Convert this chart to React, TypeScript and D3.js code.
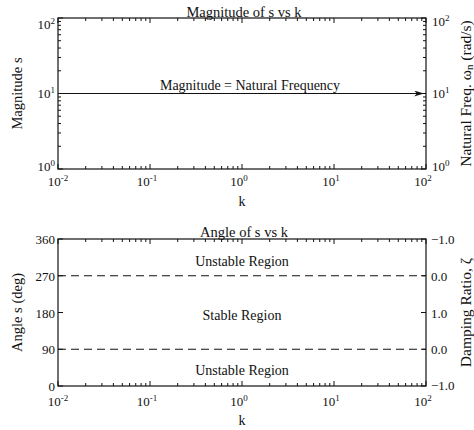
import React from 'react';
import * as d3 from 'd3';

const kDomain = [0.01, 100];
const kMajorTicks = [0.01, 0.1, 1, 10, 100];
const kTickExponents = ['-2', '-1', '0', '1', '2'];
const magnitudeDomain = [1, 100];
const magnitudeMajorTicks = [1, 10, 100];
const magnitudeExponents = ['0', '1', '2'];
const naturalFrequency = 10;
const angleDomain = [0, 360];
const angleTicks = [0, 90, 180, 270, 360];
const dampingLabels = ['\u22121.0', '0.0', '1.0', '0.0', '\u22121.0'];
const boundaryAngles = [90, 270];
const regionLabels = ['Unstable Region', 'Stable Region', 'Unstable Region'];
const regionLabelAngles = [295, 162, 27];

const W = 474, H = 430;
const L = 58, R = 426;
const T1 = 18, B1 = 169;
const T2 = 239, B2 = 386;
const FONT = '"Liberation Serif", "Times New Roman", serif';
const INK = '#111';

function Pow({ x, y, exp, anchor }: { x: number; y: number; exp: string; anchor: string }) {
  return (
    <text x={x} y={y} textAnchor={anchor} fontSize={13} fontFamily={FONT} fill={INK}>
      10<tspan dy={-5} fontSize={9}>{exp}</tspan>
    </text>
  );
}

export default function App() {
  const x = d3.scaleLog().domain(kDomain).range([L, R]);
  const yMag = d3.scaleLog().domain(magnitudeDomain).range([B1, T1]);
  const yAng = d3.scaleLinear().domain(angleDomain).range([B2, T2]);
  const kMinor = x.ticks().filter((t) => !kMajorTicks.some((m) => Math.abs(m - t) / m < 1e-6));
  const magMinor = yMag.ticks().filter((t) => !magnitudeMajorTicks.some((m) => Math.abs(m - t) / m < 1e-6));
  const cx = (L + R) / 2;
  const sw = 1.2;
  const xLabelShift = (i: number) => (i === 0 ? 0 : -3);

  const xTicks = (top: number, bottom: number) => (
    <g stroke={INK} strokeWidth={1}>
      {kMajorTicks.map((t, i) => (
        <g key={'M' + i}>
          <line x1={x(t)} x2={x(t)} y1={bottom} y2={bottom - 5} />
          <line x1={x(t)} x2={x(t)} y1={top} y2={top + 5} />
        </g>
      ))}
      {kMinor.map((t, i) => (
        <g key={'m' + i}>
          <line x1={x(t)} x2={x(t)} y1={bottom} y2={bottom - 3} />
          <line x1={x(t)} x2={x(t)} y1={top} y2={top + 3} />
        </g>
      ))}
    </g>
  );

  return (
    <svg width={W} height={H} style={{ position: 'absolute', left: 0, top: 0, background: '#fff' }}>
      <rect x={0} y={0} width={W} height={H} fill="#fff" />
      <defs>
        <marker id="arr" viewBox="0 0 10 6" refX={10} refY={3} markerWidth={10} markerHeight={6} markerUnits="userSpaceOnUse" orient="auto">
          <path d="M0,0 L10,3 L0,6 L3,3 Z" fill={INK} />
        </marker>
      </defs>

      {/* ---------- Top plot ---------- */}
      <rect x={L} y={T1} width={R - L} height={B1 - T1} fill="none" stroke={INK} strokeWidth={sw} />
      {xTicks(T1, B1)}
      <g stroke={INK} strokeWidth={1}>
        {magnitudeMajorTicks.map((t, i) => (
          <g key={'ym' + i}>
            <line x1={L} x2={L + 5} y1={yMag(t)} y2={yMag(t)} />
            <line x1={R} x2={R - 5} y1={yMag(t)} y2={yMag(t)} />
          </g>
        ))}
        {magMinor.map((t, i) => (
          <g key={'yn' + i}>
            <line x1={L} x2={L + 3} y1={yMag(t)} y2={yMag(t)} />
            <line x1={R} x2={R - 3} y1={yMag(t)} y2={yMag(t)} />
          </g>
        ))}
      </g>
      <line x1={L} x2={R - 2} y1={yMag(naturalFrequency)} y2={yMag(naturalFrequency)} stroke={INK} strokeWidth={1.2} markerEnd="url(#arr)" />
      <text x={cx + 8} y={yMag(naturalFrequency) - 4} textAnchor="middle" fontSize={14} fontFamily={FONT} fill={INK}>
        Magnitude = Natural Frequency
      </text>
      <text x={cx + 2} y={T1 - 1} textAnchor="middle" fontSize={14.5} fontFamily={FONT} fill={INK}>
        Magnitude of s vs k
      </text>
      {magnitudeMajorTicks.map((t, i) => (
        <Pow key={'ly' + i} x={L - 3} y={i === 2 ? yMag(t) + 11 : i === 0 ? yMag(t) + 2 : yMag(t) + 4} exp={magnitudeExponents[i]} anchor="end" />
      ))}
      {magnitudeMajorTicks.map((t, i) => (
        <Pow key={'ry' + i} x={R + 6} y={i === 2 ? yMag(t) + 8 : i === 0 ? yMag(t) + 2 : yMag(t) + 4} exp={magnitudeExponents[i]} anchor="start" />
      ))}
      {kMajorTicks.map((t, i) => (
        <Pow key={'tx' + i} x={x(t) + xLabelShift(i)} y={B1 + 17} exp={kTickExponents[i]} anchor="middle" />
      ))}
      <text x={cx} y={B1 + 37} textAnchor="middle" fontSize={14} fontFamily={FONT} fill={INK}>k</text>
      <text transform={`translate(22,${(T1 + B1) / 2}) rotate(-90)`} textAnchor="middle" fontSize={14.5} fontFamily={FONT} fill={INK}>
        Magnitude s
      </text>
      <text transform={`translate(471,${(T1 + B1) / 2}) rotate(-90)`} textAnchor="middle" fontSize={15.5} fontFamily={FONT} fill={INK}>
        Natural Freq. {'\u03c9'}<tspan fontSize={11} dy={2}>n</tspan><tspan dy={-2}> (rad/s)</tspan>
      </text>

      {/* ---------- Bottom plot ---------- */}
      <rect x={L} y={T2} width={R - L} height={B2 - T2} fill="none" stroke={INK} strokeWidth={sw} />
      {xTicks(T2, B2)}
      <g stroke={INK} strokeWidth={1}>
        {angleTicks.map((t, i) => (
          <g key={'at' + i}>
            <line x1={L} x2={L + 5} y1={yAng(t)} y2={yAng(t)} />
            <line x1={R} x2={R - 5} y1={yAng(t)} y2={yAng(t)} />
          </g>
        ))}
      </g>
      {boundaryAngles.map((a, i) => (
        <line key={'b' + i} x1={L} x2={R} y1={yAng(a)} y2={yAng(a)} stroke={INK} strokeWidth={1.1} strokeDasharray="8,5" />
      ))}
      {regionLabels.map((s, i) => (
        <text key={'rl' + i} x={cx} y={yAng(regionLabelAngles[i])} textAnchor="middle" fontSize={14} fontFamily={FONT} fill={INK}>
          {s}
        </text>
      ))}
      <text x={cx + 2} y={T2 - 2} textAnchor="middle" fontSize={14.5} fontFamily={FONT} fill={INK}>
        Angle of s vs k
      </text>
      {angleTicks.map((t, i) => (
        <text key={'al' + i} x={L - 3} y={yAng(t) + 5} textAnchor="end" fontSize={13} fontFamily={FONT} fill={INK}>
          {t}
        </text>
      ))}
      {angleTicks.map((t, i) => (
        <text key={'dl' + i} x={R + 5} y={i === 0 ? yAng(t) + 4 : yAng(t) + 5} textAnchor="start" fontSize={13} fontFamily={FONT} fill={INK}>
          {dampingLabels[i]}
        </text>
      ))}
      {kMajorTicks.map((t, i) => (
        <Pow key={'bx' + i} x={x(t) + xLabelShift(i)} y={B2 + 20} exp={kTickExponents[i]} anchor="middle" />
      ))}
      <text x={cx} y={B2 + 39} textAnchor="middle" fontSize={14} fontFamily={FONT} fill={INK}>k</text>
      <text transform={`translate(22,${(T2 + B2) / 2}) rotate(-90)`} textAnchor="middle" fontSize={14.5} fontFamily={FONT} fill={INK}>
        Angle s (deg)
      </text>
      <text transform={`translate(471,${(T2 + B2) / 2}) rotate(-90)`} textAnchor="middle" fontSize={15.5} fontFamily={FONT} fill={INK}>
        Damping Ratio, {'\u03b6'}
      </text>
    </svg>
  );
}
